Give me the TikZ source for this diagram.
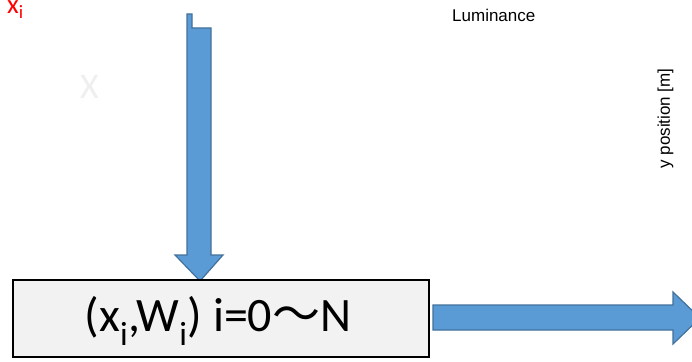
\documentclass[tikz,border=0pt]{standalone}
\usepackage{fontspec}
\setmainfont{Carlito}
\newfontfamily\helv{Liberation Sans}
\newfontfamily\cjk{Noto Sans CJK JP}
\definecolor{arrowfill}{HTML}{5B9BD5}
\definecolor{arrowline}{HTML}{41719C}
\definecolor{boxfill}{HTML}{F2F2F2}
\definecolor{ghost}{HTML}{EFEFEF}
\tikzset{
  blockarrow/.style={fill=arrowfill,draw=arrowline,line width=1.2pt,line join=miter},
  databox/.style={draw=black,fill=boxfill,line width=1.2pt,minimum width=416pt,minimum height=77pt,inner sep=0pt,font=\fontsize{48}{50}\selectfont},
  axislabel/.style={font=\helv\fontsize{17}{19}\selectfont,inner sep=0pt}
}
\begin{document}
\begin{tikzpicture}[x=1pt,y=-1pt]
\useasboundingbox (0,0) rectangle (692,361);
\clip (0,0) rectangle (692,361);
\fill[white] (0,0) rectangle (692,361);
% red label top-left
\node[anchor=base west,text=red,inner sep=0pt,font=\fontsize{27}{29}\selectfont] (xi) at (7,14) {x\textsubscript{i}};
% very light X
\node[anchor=center,text=ghost,inner sep=0pt,font=\fontsize{36}{38}\selectfont] (bigx) at (89.5,87) {X};
% vertical block arrow
\draw[blockarrow] (187,14) -- (192,14) -- (192,28) -- (211,28) -- (211,255) -- (223,255) -- (200,281) -- (175,255) -- (187,255) -- cycle;
% data box
\node[databox] (box) at (221,318.5) {};
\node[anchor=center,inner sep=0pt,font=\fontsize{48}{50}\selectfont] (boxtext) at (218,321) {(x\textsubscript{i},W\textsubscript{i}) i=0{\cjk 〜}N};
% horizontal block arrow
\draw[blockarrow] (433,305) -- (673,305) -- (673,292) -- (700,318) -- (673,344) -- (673,330) -- (433,330) -- cycle;
% labels
\node[axislabel,anchor=base west] (lum) at (452,22) {Luminance};
\node[axislabel,rotate=90,anchor=center] (ypos) at (665.5,118.5) {y position [m]};
\end{tikzpicture}
\end{document}
